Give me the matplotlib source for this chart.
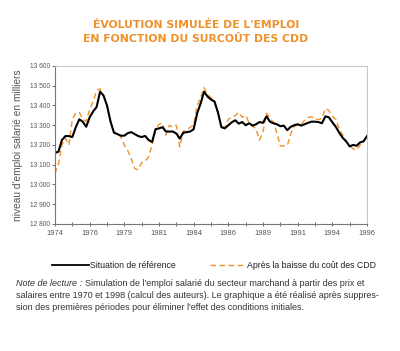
"""Évolution simulée de l'emploi en fonction du surcoût des CDD."""

import matplotlib
matplotlib.use("Agg")
import matplotlib.pyplot as plt
from matplotlib.lines import Line2D
from matplotlib.ticker import FuncFormatter, MultipleLocator

# quarterly points, 1974Q1 .. 1996Q3 (91 quarters)
REFERENCE = [
    13160, 13166, 13225, 13245, 13245, 13240, 13290, 13330, 13318, 13292,
    13340, 13370, 13392, 13470, 13450, 13400, 13320, 13262, 13255, 13247,
    13247, 13260, 13265, 13255, 13245, 13240, 13246, 13225, 13215, 13280,
    13284, 13290, 13268, 13268, 13268, 13258, 13232, 13262, 13265, 13268,
    13280, 13360, 13410, 13470, 13445, 13430, 13420, 13365, 13290, 13284,
    13300, 13315, 13325, 13308, 13316, 13300, 13310, 13298, 13305, 13316,
    13312, 13345, 13318, 13310, 13305, 13295, 13298, 13275, 13292, 13300,
    13305, 13298, 13305, 13312, 13318, 13318, 13316, 13310, 13345, 13340,
    13315, 13292, 13262, 13236, 13218, 13193, 13200, 13196, 13213, 13218,
    13245,
]
BAISSE_CDD = [
    13055, 13105, 13200, 13235, 13200, 13330, 13362, 13365, 13330, 13320,
    13380, 13420, 13475, 13485, 13450, 13400, 13320, 13268, 13262, 13240,
    13200, 13170, 13130, 13080, 13075, 13110, 13118, 13140, 13200, 13275,
    13305, 13310, 13250, 13300, 13290, 13300, 13190, 13270, 13275, 13290,
    13300, 13400, 13440, 13490, 13455, 13440, 13428, 13360, 13290, 13290,
    13330, 13342, 13350, 13365, 13340, 13350, 13312, 13296, 13280, 13225,
    13267, 13360, 13335, 13315, 13260, 13195, 13196, 13196, 13255, 13295,
    13300, 13305, 13325, 13338, 13343, 13332, 13328, 13335, 13385, 13375,
    13345, 13330, 13280, 13250, 13217, 13195, 13180, 13175, 13200, 13222,
    13240,
]
YEAR_LABELS = ["1974", "1976", "1979", "1981", "1984",
               "1986", "1989", "1991", "1994", "1996"]
SERIES_NAMES = ["Situation de référence", "Après la baisse du coût des CDD"]

ORANGE = "#f0922b"
GREY = "#555555"

plt.rcParams["font.family"] = ["Liberation Sans", "DejaVu Sans"]

fig = plt.figure(figsize=(4.0, 3.51), dpi=100)
ax = fig.add_axes([0.1375, 0.362, 0.78, 0.45])

x = list(range(len(REFERENCE)))
ax.plot(x, BAISSE_CDD, color=ORANGE, lw=1.0, dashes=(4, 2.5))
ax.plot(x, REFERENCE, color="black", lw=1.5)

ax.set_xlim(0, 90)
ax.set_ylim(12800, 13600)
ax.yaxis.set_major_locator(MultipleLocator(100))
ax.yaxis.set_major_formatter(
    FuncFormatter(lambda v, p: f"{int(v) // 1000} {int(v) % 1000:03d}"))
ax.set_xticks(range(0, 91, 10))
ax.set_xticklabels(YEAR_LABELS)
ax.set_xticks(range(5, 91, 10), minor=True)
ax.tick_params(axis="y", labelsize=4.8, length=2, width=0.6,
               colors=GREY, pad=1.5)
ax.tick_params(axis="x", which="both", labelsize=5.4, length=2.5,
               width=0.6, direction="inout", colors=GREY, pad=3)
for side in ["top", "right"]:
    ax.spines[side].set_color("#c8c8c8")
    ax.spines[side].set_linewidth(0.8)
for side in ["left", "bottom"]:
    ax.spines[side].set_color("#777777")
    ax.spines[side].set_linewidth(0.8)

ax.set_ylabel("niveau d'emploi salarié en milliers", fontsize=7.3,
              color=GREY, labelpad=5)

fig.text(0.49, 0.909, "ÉVOLUTION SIMULÉE DE L'EMPLOI\nEN FONCTION DU SURCOÛT DES CDD",
         ha="center", va="center", color=ORANGE, fontsize=7.8,
         fontweight="bold", linespacing=1.6, family="DejaVu Sans")

# legend keys drawn by hand so the two entries sit where the original has them
leg_y = 1 - 265 / 351
fig.add_artist(Line2D([52 / 400, 89 / 400], [leg_y, leg_y],
                      color="black", lw=1.3))
fig.text(90 / 400, leg_y, SERIES_NAMES[0], fontsize=6.3, va="center",
         color="#222222")
fig.add_artist(Line2D([210 / 400, 246 / 400], [leg_y, leg_y],
                      color=ORANGE, lw=1.0, dashes=(4, 2.5)))
fig.text(247 / 400, leg_y, SERIES_NAMES[1], fontsize=6.3, va="center",
         color="#222222")

# reading note, italic lead-in then the body text
fig.canvas.draw()
renderer = fig.canvas.get_renderer()
note_kw = dict(fontsize=6.45, color="#333333", va="baseline")
lead = fig.text(0.04, 0.185, "Note de lecture : ", style="italic", **note_kw)
w = lead.get_window_extent(renderer).width / fig.bbox.width
fig.text(0.04 + w, 0.185,
         "Simulation de l'emploi salarié du secteur marchand à partir des prix et",
         **note_kw)
fig.text(0.04, 0.151,
         "salaires entre 1970 et 1998 (calcul des auteurs). Le graphique a été réalisé après suppres-",
         **note_kw)
fig.text(0.04, 0.117,
         "sion des premières périodes pour éliminer l'effet des conditions initiales.",
         **note_kw)

fig.savefig("out.png", dpi=100)
